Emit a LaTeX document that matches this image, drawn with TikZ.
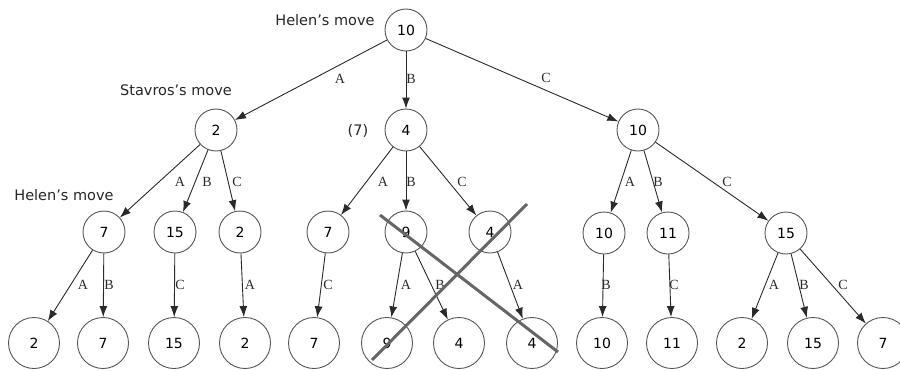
\documentclass[tikz,border=0pt]{standalone}
\usepackage{fontspec}
\setmainfont{DejaVu Sans}
\newfontfamily\labfont{Liberation Serif}
\usetikzlibrary{arrows.meta}
\definecolor{edgec}{HTML}{2a2a2a}
\definecolor{circc}{HTML}{555555}
\definecolor{crossc}{HTML}{666666}
\tikzset{
  st/.style={circle,draw=circc,line width=0.9pt,minimum size=42pt,inner sep=0pt,font=\fontsize{14}{16}\selectfont,text=black},
  lf/.style={st,minimum size=51pt},
  edge/.style={draw=edgec,line width=0.9pt,-{Latex[length=11pt,width=8pt]}},
  el/.style={font=\labfont\fontsize{14}{16}\selectfont,inner sep=0pt,text=edgec},
  tl/.style={font=\fontsize{14.5}{17}\selectfont,inner sep=0pt,text=black!85},
  crossline/.style={draw=crossc,line width=3pt}
}
\newcommand{\aps}{\char"27\relax}
\begin{document}
\begin{tikzpicture}[x=1pt,y=-1pt]
\useasboundingbox (0,0) rectangle (900,370);
% level 0
\node[st] (r) at (406,30) {10};
% level 1
\node[st] (a) at (216,130) {2};
\node[st] (b) at (406,130) {4};
\node[st] (c) at (638,130) {10};
% level 2
\node[st] (aa) at (104,232) {7};
\node[st] (ab) at (175,232) {15};
\node[st] (ac) at (240,232) {2};
\node[st] (ba) at (328,232) {7};
\node[st] (bb) at (406,232) {9};
\node[st] (bc) at (490,232) {4};
\node[st] (ca) at (604,233) {10};
\node[st] (cb) at (668,233) {11};
\node[st] (cc) at (786,233) {15};
% level 3
\node[lf] (aaa) at (34,343) {2};
\node[lf] (aab) at (103,343) {7};
\node[lf] (abc) at (174,343) {15};
\node[lf] (aca) at (245,343) {2};
\node[lf] (bac) at (314,343) {7};
\node[lf] (bba) at (387,343) {9};
\node[lf] (bbb) at (459,343) {4};
\node[lf] (bca) at (532,343) {4};
\node[lf] (cab) at (602,343) {10};
\node[lf] (cbc) at (672,343) {11};
\node[lf] (cca) at (742,343) {2};
\node[lf] (ccb) at (813,343) {15};
\node[lf] (ccc) at (883,343) {7};
% edges
\draw[edge] (r) -- (a);
\draw[edge] (r) -- (b);
\draw[edge] (r) -- (c);
\draw[edge] (a) -- (aa);
\draw[edge] (a) -- (ab);
\draw[edge] (a) -- (ac);
\draw[edge] (b) -- (ba);
\draw[edge] (b) -- (bb);
\draw[edge] (b) -- (bc);
\draw[edge] (c) -- (ca);
\draw[edge] (c) -- (cb);
\draw[edge] (c) -- (cc);
\draw[edge] (aa) -- (aaa);
\draw[edge] (aa) -- (aab);
\draw[edge] (ab) -- (abc);
\draw[edge] (ac) -- (aca);
\draw[edge] (ba) -- (bac);
\draw[edge] (bb) -- (bba);
\draw[edge] (bb) -- (bbb);
\draw[edge] (bc) -- (bca);
\draw[edge] (ca) -- (cab);
\draw[edge] (cb) -- (cbc);
\draw[edge] (cc) -- (cca);
\draw[edge] (cc) -- (ccb);
\draw[edge] (cc) -- (ccc);
% edge labels
\node[el] (l1) at (340,79) {A};
\node[el] (l2) at (411,79) {B};
\node[el] (l3) at (546,78) {C};
\node[el] (l4) at (180,182) {A};
\node[el] (l5) at (207,182) {B};
\node[el] (l6) at (237,182) {C};
\node[el] (l7) at (383,182) {A};
\node[el] (l8) at (411,182) {B};
\node[el] (l9) at (462,182) {C};
\node[el] (l10) at (630,182) {A};
\node[el] (l11) at (658,182) {B};
\node[el] (l12) at (727,182) {C};
\node[el] (m1) at (83,285) {A};
\node[el] (m2) at (109,285) {B};
\node[el] (m3) at (180,285) {C};
\node[el] (m4) at (250,285) {A};
\node[el] (m5) at (328,285) {C};
\node[el] (m6) at (406,285) {A};
\node[el] (m7) at (440,285) {B};
\node[el] (m8) at (518,285) {A};
\node[el] (m9) at (606,285) {B};
\node[el] (m10) at (674,285) {C};
\node[el] (m11) at (774,285) {A};
\node[el] (m12) at (804,285) {B};
\node[el] (m13) at (843,285) {C};
% texts
\node[tl] (t1) at (325,20) {Helen\aps s move};
\node[tl] (t2) at (176,90) {Stavros\aps s move};
\node[tl] (t3) at (358,131) {(7)};
\node[tl] (t4) at (64,195) {Helen\aps s move};
% cross
\coordinate (x1) at (380,215);
\coordinate (x2) at (558,352);
\coordinate (x3) at (372,360);
\coordinate (x4) at (527,204);
\draw[crossline] (x1) -- (x2);
\draw[crossline] (x3) -- (x4);
\end{tikzpicture}
\end{document}
